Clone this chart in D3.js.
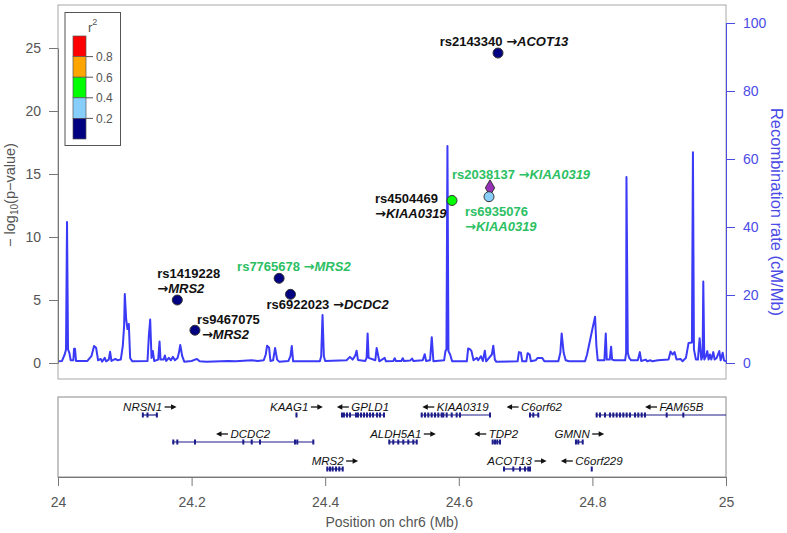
<!DOCTYPE html>
<html><head><meta charset="utf-8">
<script src="https://cdn.jsdelivr.net/npm/d3@7"></script>
<style>body{margin:0;background:#fff} text{font-family:"Liberation Sans",Arial,Helvetica,sans-serif}</style>
</head><body><svg id="c" width="787" height="533"></svg>
<script>
// ---------------- DATA ----------------
const recPos = [24.000,24.006,24.010,24.012,24.0135,24.015,24.017,24.019,24.023,24.024,24.0255,24.027,24.044,24.050,24.054,24.057,24.060,24.064,24.066,24.070,24.072,24.076,24.078,24.080,24.086,24.089,24.094,24.097,24.099,24.100,24.102,24.104,24.106,24.108,24.111,24.134,24.136,24.138,24.140,24.142,24.144,24.150,24.152,24.1535,24.158,24.160,24.162,24.166,24.169,24.172,24.175,24.179,24.181,24.183,24.186,24.189,24.200,24.208,24.212,24.222,24.255,24.266,24.290,24.299,24.308,24.311,24.313,24.316,24.318,24.322,24.325,24.328,24.331,24.345,24.348,24.350,24.352,24.392,24.394,24.396,24.398,24.400,24.432,24.437,24.441,24.445,24.447,24.449,24.460,24.462,24.4635,24.465,24.475,24.477,24.479,24.481,24.489,24.491,24.502,24.504,24.506,24.514,24.516,24.518,24.527,24.530,24.532,24.546,24.549,24.551,24.557,24.5595,24.562,24.578,24.580,24.5815,24.583,24.5845,24.587,24.590,24.612,24.614,24.617,24.619,24.622,24.627,24.629,24.633,24.636,24.639,24.641,24.6495,24.6516,24.654,24.656,24.688,24.690,24.693,24.695,24.701,24.703,24.706,24.708,24.715,24.718,24.725,24.728,24.749,24.752,24.754,24.757,24.760,24.765,24.789,24.792,24.800,24.804,24.806,24.808,24.818,24.820,24.8215,24.826,24.828,24.8295,24.833,24.849,24.8505,24.851,24.853,24.855,24.858,24.868,24.871,24.873,24.880,24.882,24.887,24.890,24.898,24.914,24.917,24.920,24.923,24.926,24.932,24.935,24.940,24.944,24.949,24.9505,24.952,24.955,24.958,24.9605,24.963,24.965,24.966,24.9675,24.970,24.972,24.974,24.976,24.978,24.981,24.983,24.986,24.990,24.992,24.995,24.997,25.000];
const recRate = [0.5,0.6,2.5,4.0,41.5,4.0,3.0,0.8,0.8,4.2,4.2,0.6,0.6,2.0,5.0,4.5,0.8,1.2,0.4,1.5,0.5,1.0,3.3,0.6,1.2,0.8,1.0,5.0,11.0,20.3,13.0,10.0,11.5,1.5,0.5,0.6,8.0,12.8,1.5,3.5,0.6,1.0,6.3,1.0,1.0,2.2,0.6,1.5,0.8,1.8,0.8,1.5,3.0,5.3,2.0,0.4,0.6,1.2,0.5,0.4,0.6,0.5,0.8,0.6,0.8,2.5,5.1,4.5,0.6,0.8,4.4,1.0,0.4,0.6,2.0,5.0,0.5,0.5,2.0,14.1,2.0,0.6,0.8,1.8,1.0,2.2,3.6,0.9,0.6,1.5,8.7,1.5,0.8,4.4,2.5,0.5,1.5,0.5,0.6,1.4,0.6,0.6,1.4,0.6,0.7,1.3,0.6,0.8,2.6,0.6,0.8,7.6,0.5,0.8,3.5,4.0,63.8,3.5,2.5,0.5,0.5,4.3,4.0,3.5,0.8,1.5,0.8,2.0,0.6,3.6,0.5,2.5,5.1,1.0,0.4,0.5,3.2,3.0,0.5,0.5,2.9,2.5,0.5,0.8,1.5,1.5,0.5,0.5,3.0,8.7,3.0,0.8,0.5,0.5,2.5,10.0,13.6,5.0,0.8,0.8,8.7,1.0,1.0,4.8,1.0,0.8,0.8,3.0,54.7,3.0,1.5,0.8,0.8,3.2,0.6,1.0,0.5,0.8,0.5,0.8,1.0,3.4,2.5,3.2,1.0,1.2,0.5,1.5,5.9,6.0,62.0,4.0,1.0,1.0,7.3,1.0,2.0,24.0,1.0,2.0,3.5,1.0,2.5,1.0,3.2,1.0,1.5,3.5,0.8,3.0,0.8,0.5];

const snpIds   = ["rs2143340","rs2038137","rs6935076","rs4504469","rs7765678","rs6922023","rs1419228","rs9467075"];
const snpPos   = [24.6587,24.6467,24.6452,24.5898,24.3310,24.3480,24.1786,24.2050];
const snpLogP  = [24.6,13.9,13.2,12.9,6.72,5.45,5.0,2.6];
const snpR2    = [0.1,1.0,0.3,0.5,0.1,0.1,0.1,0.1];
const snpLead  = [false,true,false,false,false,false,false,false];
const snpGene  = ["ACOT13","KIAA0319","KIAA0319","KIAA0319","MRS2","DCDC2","MRS2","MRS2"];
const snpHighlight = [false,true,true,false,true,false,false,false];

const leftTicks  = [0,5,10,15,20,25];
const rightTicks = [0,20,40,60,80,100];
const xTicks     = [24,24.2,24.4,24.6,24.8,25];

const legendBreaks = [0.2,0.4,0.6,0.8];
const legendColors = ["#000080","#87CEFA","#00FF00","#FFA500","#FF0000"];

const geneNames  = ["NRSN1","KAAG1","GPLD1","KIAA0319","C6orf62","FAM65B","DCDC2","ALDH5A1","TDP2","GMNN","MRS2","ACOT13","C6orf229"];
const geneStart  = [24.126,24.356,24.424,24.543,24.706,24.805,24.171,24.495,24.650,24.775,24.402,24.667,24.798];
const geneEnd    = [24.149,24.358,24.489,24.647,24.720,25.040,24.383,24.538,24.662,24.786,24.427,24.707,24.800];
const geneStrand = ["+","+","-","-","-","-","-","+","-","+","+","+","-"];
const geneRow    = [0,0,0,0,0,0,1,1,1,1,2,2,2];
const geneExons  = [
  [24.127,24.134,24.148],
  [24.357],
  [24.4251,24.4281,24.4326,24.4371,24.4461,24.4491,24.4536,24.4581,24.4626,24.4671,24.4716,24.4776,24.4820,24.4880],
  [24.5445,24.5494,24.5543,24.5594,24.5644,24.5693,24.5744,24.5768,24.5819,24.5894,24.5968,24.6018,24.6467],
  [24.7066,24.7115,24.7190],
  [24.8064,24.8114,24.8189,24.8263,24.8313,24.8364,24.8413,24.8463,24.8513,24.8563,24.8638,24.8687,24.8738,24.8787,24.9112,24.9361],
  [24.1726,24.1786,24.2051,24.2774,24.2900,24.3024,24.3548,24.3582,24.3822],
  [24.4960,24.5019,24.5094,24.5169,24.5244,24.5319,24.5370],
  [24.6507,24.6542,24.6576,24.6617],
  [24.7754,24.7789,24.7855],
  [24.4032,24.4072,24.4112,24.4162,24.4211,24.4262],
  [24.6677,24.6816,24.6916,24.6991,24.7040,24.7066],
  [24.7990]
];

// ---------------- LAYOUT ----------------
const svg = d3.select("#c");
const L = 58, R = 726, T = 5, B = 379;
const gTop = 397, gBot = 477;
const x  = d3.scaleLinear().domain([24,25]).range([L,R]);
const yL = d3.scaleLinear().domain([0,25]).range([363,48]);
const yR = d3.scaleLinear().domain([0,100]).range([363,23]);
const recColor = "#3a3af7", recText = "#4b4be6";
const gray = "#555", green = "#2cc063";
const r2Color = d3.scaleThreshold().domain(legendBreaks).range(legendColors);

svg.append("defs").append("clipPath").attr("id","pc").append("rect")
  .attr("x",L).attr("y",T).attr("width",R-L).attr("height",B-T);
svg.select("defs").append("clipPath").attr("id","gc").append("rect")
  .attr("x",L).attr("y",gTop).attr("width",R-L).attr("height",gBot-gTop);

// plot box
svg.append("rect").attr("x",L).attr("y",T).attr("width",R-L).attr("height",B-T)
  .attr("fill","none").attr("stroke","#a8a8a8").attr("stroke-width",1);

// recombination line
const recData = recPos.map((p,i)=>[p,recRate[i]]);
svg.append("path").datum(recData).attr("clip-path","url(#pc)")
  .attr("fill","none").attr("stroke",recColor).attr("stroke-width",2).attr("stroke-linejoin","round")
  .attr("d", d3.line().x(d=>x(d[0])).y(d=>yR(d[1])));

// left axis
const axL = svg.append("g").attr("transform",`translate(${L},0)`)
  .call(d3.axisLeft(yL).tickValues(leftTicks).tickSize(9).tickPadding(8).tickSizeOuter(0));
axL.select(".domain").attr("stroke","#777");
axL.selectAll(".tick line").attr("stroke","#777");
axL.selectAll("text").attr("fill",gray).attr("font-size",14).attr("font-family",'"Liberation Sans",Arial,sans-serif');

// right axis
const axR = svg.append("g").attr("transform",`translate(${R},0)`)
  .call(d3.axisRight(yR).tickValues(rightTicks).tickSize(9).tickPadding(8).tickSizeOuter(0));
axR.select(".domain").attr("stroke",recText);
axR.selectAll(".tick line").attr("stroke",recText);
axR.selectAll("text").attr("fill",recText).attr("font-size",14).attr("font-family",'"Liberation Sans",Arial,sans-serif');

// axis titles
const lt = svg.append("text").attr("transform","translate(15,195) rotate(-90)").attr("text-anchor","middle")
  .attr("fill",gray).attr("font-size",14.5);
lt.append("tspan").text("\u2212 log");
lt.append("tspan").text("10").attr("font-size",10).attr("dy",3);
lt.append("tspan").text("(p\u2212value)").attr("dy",-3);
svg.append("text").attr("transform","translate(770.5,212) rotate(90)").attr("text-anchor","middle")
  .attr("fill",recText).attr("font-size",16.5).text("Recombination rate (cM/Mb)");

// legend
const lg = svg.append("g");
lg.append("rect").attr("x",65).attr("y",12.5).attr("width",55.5).attr("height",133)
  .attr("fill","white").attr("stroke","#555").attr("stroke-width",1);
const cellH = 20.6, cellTop = 36;
const lgT = lg.append("text").attr("x",88).attr("y",32).attr("fill",gray).attr("font-size",13);
lgT.append("tspan").text("r");
lgT.append("tspan").text("2").attr("font-size",9).attr("dy",-7);
legendColors.slice().reverse().forEach((c,i)=>{
  lg.append("rect").attr("x",73).attr("y",cellTop+i*cellH).attr("width",13).attr("height",cellH)
    .attr("fill",c).attr("stroke","#555").attr("stroke-width",0.7);
});
legendBreaks.slice().reverse().forEach((b,i)=>{
  const yy = cellTop+(i+1)*cellH;
  lg.append("line").attr("x1",86).attr("x2",93).attr("y1",yy).attr("y2",yy).attr("stroke","#555");
  lg.append("text").attr("x",96).attr("y",yy+4.5).attr("fill",gray).attr("font-size",12).text(b.toFixed(1));
});

// SNP points
snpIds.forEach((id,i)=>{
  const cx = x(snpPos[i]), cy = yL(snpLogP[i]);
  if (snpLead[i]) {
    svg.append("path").attr("transform",`translate(${cx},${cy})`)
      .attr("d",d3.symbol().type(d3.symbolDiamond).size(75)())
      .attr("fill","#9632b8").attr("stroke","#333").attr("stroke-width",1);
  } else {
    svg.append("circle").attr("cx",cx).attr("cy",cy).attr("r",5)
      .attr("fill",r2Color(snpR2[i])).attr("stroke","#333").attr("stroke-width",1);
  }
});

// SNP labels (offsets relative to point)
const labelLayout = {
  rs2143340:{lines:1,anchor:"middle",dx:6,dy:-7.5},
  rs2038137:{lines:1,anchor:"start",dx:-38,dy:-9},
  rs6935076:{lines:2,anchor:"start",dx:-24,dy:19.5,dx2:-24},
  rs4504469:{lines:2,anchor:"start",dx:-77,dy:3,dx2:-77},
  rs7765678:{lines:1,anchor:"start",dx:-42,dy:-7},
  rs6922023:{lines:1,anchor:"start",dx:-24,dy:15},
  rs1419228:{lines:2,anchor:"start",dx:-20,dy:-22.5,dx2:-20},
  rs9467075:{lines:2,anchor:"start",dx:2,dy:-6,dx2:7}
};
const arrowFont = '"DejaVu Sans",sans-serif';
snpIds.forEach((id,i)=>{
  const cx = x(snpPos[i]), cy = yL(snpLogP[i]);
  const ly = labelLayout[id];
  const col = snpHighlight[i] ? green : "#111";
  if (ly.lines===1) {
    const t = svg.append("text").attr("x",cx+ly.dx).attr("y",cy+ly.dy).attr("text-anchor",ly.anchor)
      .attr("fill",col).attr("font-size",13).attr("font-weight","bold");
    t.append("tspan").text(id+" ");
    t.append("tspan").text("\u2192").attr("font-family",arrowFont);
    t.append("tspan").text(snpGene[i]).attr("font-style","italic");
  } else {
    svg.append("text").attr("x",cx+ly.dx).attr("y",cy+ly.dy).attr("fill",col)
      .attr("font-size",13).attr("font-weight","bold").text(id);
    const t2 = svg.append("text").attr("x",cx+ly.dx2).attr("y",cy+ly.dy+15).attr("fill",col)
      .attr("font-size",13).attr("font-weight","bold");
    t2.append("tspan").text("\u2192").attr("font-family",arrowFont);
    t2.append("tspan").text(snpGene[i]).attr("font-style","italic");
  }
});

// gene panel
svg.append("rect").attr("x",L).attr("y",gTop).attr("width",R-L).attr("height",gBot-gTop)
  .attr("fill","none").attr("stroke","#8a8a8a");
const rowGeneY = [415,442,469];
const geneCol = "#1c1c8a";
const gg = svg.append("g").attr("clip-path","url(#gc)");
geneNames.forEach((g,i)=>{
  const yy = rowGeneY[geneRow[i]];
  gg.append("line").attr("x1",x(geneStart[i])).attr("x2",x(geneEnd[i])).attr("y1",yy).attr("y2",yy)
    .attr("stroke",geneCol).attr("stroke-width",1.2);
  geneExons[i].forEach(e=>{
    gg.append("rect").attr("x",x(e)-1).attr("y",yy-2.5).attr("width",2).attr("height",5).attr("fill",geneCol);
  });
  const cx = x((geneStart[i]+geneEnd[i])/2);
  const ty = yy-4;
  const t = svg.append("text").attr("y",ty).attr("font-size",11.5).attr("font-style","italic")
    .attr("fill","#111").text(g);
  const w = t.node().getComputedTextLength();
  const aLen = 12, gap = 2.5, total = w+gap+aLen;
  const left = cx-total/2;
  const ay = ty-4;
  let ax0, ax1;
  if (geneStrand[i]==="+") { t.attr("x",left); ax0 = left+w+gap; ax1 = ax0+aLen; }
  else { t.attr("x",left+aLen+gap); ax0 = left+aLen; ax1 = left; }
  const dir = Math.sign(ax1-ax0);
  svg.append("line").attr("x1",ax0).attr("x2",ax1-dir*4).attr("y1",ay).attr("y2",ay)
    .attr("stroke","#111").attr("stroke-width",1.3);
  svg.append("path").attr("d",`M${ax1},${ay} L${ax1-dir*5.5},${ay-2.8} L${ax1-dir*5.5},${ay+2.8} Z`).attr("fill","#111");
});

// bottom axis
const axB = svg.append("g").attr("transform",`translate(0,${gBot})`)
  .call(d3.axisBottom(x).tickValues(xTicks).tickFormat(d=>String(+d.toFixed(1))).tickSize(9).tickPadding(11).tickSizeOuter(0));
axB.select(".domain").attr("stroke","#777");
axB.selectAll(".tick line").attr("stroke","#777");
axB.selectAll("text").attr("fill",gray).attr("font-size",14).attr("font-family",'"Liberation Sans",Arial,sans-serif');
svg.append("text").attr("x",392).attr("y",527).attr("text-anchor","middle").attr("fill",gray)
  .attr("font-size",14).text("Position on chr6 (Mb)");
</script></body></html>
